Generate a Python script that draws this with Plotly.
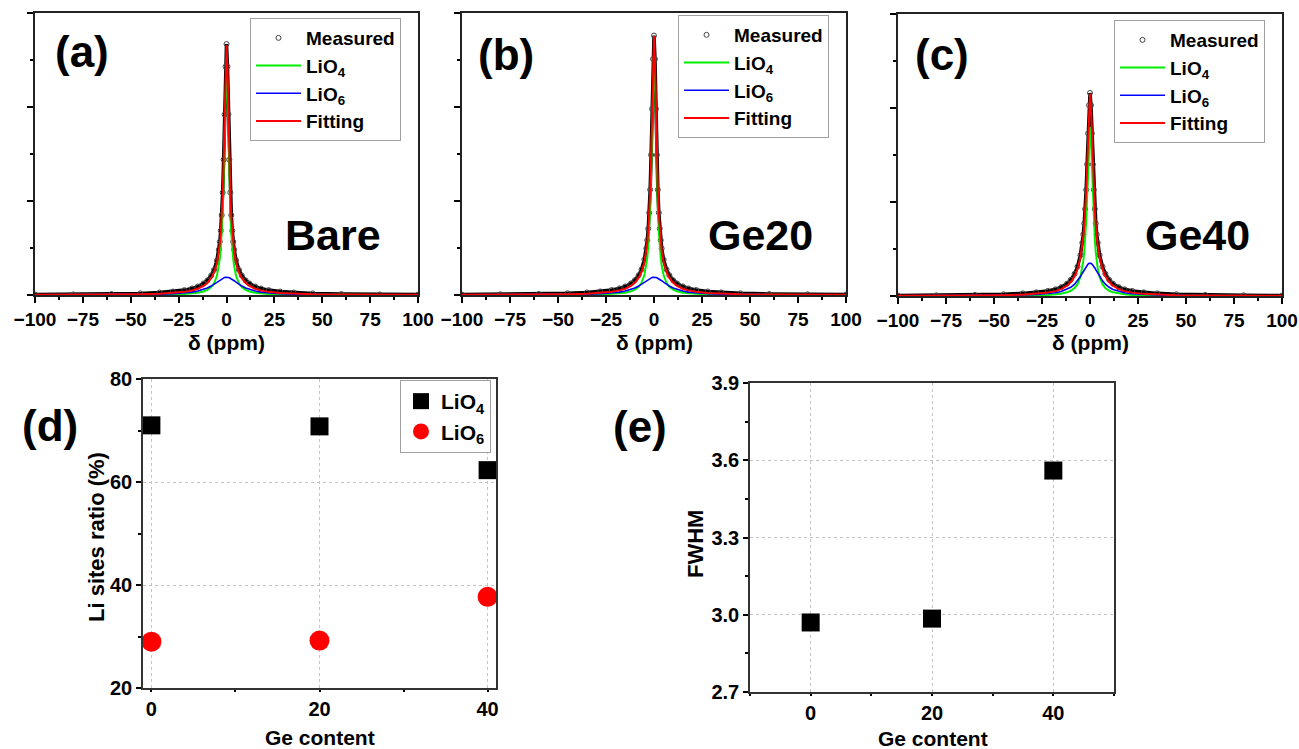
import plotly.graph_objects as go

W, H = 1299, 749
FONT = "Liberation Sans, Arial, sans-serif"

# ---------------- data ----------------
shift_ppm = [-100, -80, -60, -45, -35, -28, -22, -18, -15, -12, -10, -8, -6.5, -5, -4, -3.5, -3, -2.5, -2, -1.5, -1, -0.5,
             0, 0.5, 1, 1.5, 2, 2.5, 3, 3.5, 4, 5, 6.5, 8, 10, 12, 15, 18, 22, 28, 35, 45, 60, 80, 100]

a_meas = [0.004, 0.006, 0.010, 0.017, 0.026, 0.037, 0.052, 0.069, 0.090, 0.122, 0.155, 0.207, 0.267, 0.368, 0.483, 0.567, 0.685, 0.85, 1.09, 1.44, 1.92, 2.43,
          2.67, 2.43, 1.92, 1.44, 1.09, 0.85, 0.685, 0.567, 0.483, 0.368, 0.267, 0.207, 0.155, 0.122, 0.090, 0.069, 0.052, 0.037, 0.026, 0.017, 0.010, 0.006, 0.004]
a_lio4 = [0.0006, 0.0009, 0.0015, 0.0027, 0.0045, 0.0071, 0.0114, 0.017, 0.0245, 0.038, 0.054, 0.084, 0.125, 0.204, 0.305, 0.383, 0.494, 0.654, 0.889, 1.235, 1.710, 2.223,
          2.47, 2.223, 1.710, 1.235, 0.889, 0.654, 0.494, 0.383, 0.305, 0.204, 0.125, 0.084, 0.054, 0.038, 0.0245, 0.017, 0.0114, 0.0071, 0.0045, 0.0027, 0.0015, 0.0009, 0.0006]
a_lio6 = [0.0012, 0.0019, 0.0033, 0.0058, 0.0094, 0.0143, 0.022, 0.031, 0.042, 0.058, 0.074, 0.095, 0.114, 0.137, 0.152, 0.159, 0.167, 0.173, 0.179, 0.184, 0.187, 0.189,
          0.19, 0.189, 0.187, 0.184, 0.179, 0.173, 0.167, 0.159, 0.152, 0.137, 0.114, 0.095, 0.074, 0.058, 0.042, 0.031, 0.022, 0.0143, 0.0094, 0.0058, 0.0033, 0.0019, 0.0012]
a_fit = [0.0018, 0.0028, 0.0048, 0.0085, 0.0139, 0.0214, 0.0334, 0.048, 0.0665, 0.096, 0.128, 0.179, 0.239, 0.341, 0.457, 0.542, 0.661, 0.827, 1.068, 1.419, 1.897, 2.412,
         2.66, 2.412, 1.897, 1.419, 1.068, 0.827, 0.661, 0.542, 0.457, 0.341, 0.239, 0.179, 0.128, 0.096, 0.0665, 0.048, 0.0334, 0.0214, 0.0139, 0.0085, 0.0048, 0.0028, 0.0018]

b_meas = [0.004, 0.007, 0.011, 0.018, 0.027, 0.038, 0.053, 0.070, 0.091, 0.123, 0.157, 0.210, 0.272, 0.377, 0.495, 0.583, 0.705, 0.875, 1.12, 1.49, 1.98, 2.51,
          2.76, 2.51, 1.98, 1.49, 1.12, 0.875, 0.705, 0.583, 0.495, 0.377, 0.272, 0.210, 0.157, 0.123, 0.091, 0.070, 0.053, 0.038, 0.027, 0.018, 0.011, 0.007, 0.004]
b_lio4 = [0.0006, 0.0009, 0.0016, 0.0028, 0.0047, 0.0073, 0.012, 0.018, 0.025, 0.039, 0.056, 0.087, 0.130, 0.212, 0.316, 0.398, 0.513, 0.679, 0.923, 1.283, 1.776, 2.309,
          2.565, 2.309, 1.776, 1.283, 0.923, 0.679, 0.513, 0.398, 0.316, 0.212, 0.130, 0.087, 0.056, 0.039, 0.025, 0.018, 0.012, 0.0073, 0.0047, 0.0028, 0.0016, 0.0009, 0.0006]
b_lio6 = [0.0012, 0.0019, 0.0033, 0.0058, 0.0094, 0.0143, 0.022, 0.031, 0.042, 0.058, 0.074, 0.095, 0.114, 0.137, 0.152, 0.159, 0.167, 0.173, 0.179, 0.184, 0.187, 0.189,
          0.19, 0.189, 0.187, 0.184, 0.179, 0.173, 0.167, 0.159, 0.152, 0.137, 0.114, 0.095, 0.074, 0.058, 0.042, 0.031, 0.022, 0.0143, 0.0094, 0.0058, 0.0033, 0.0019, 0.0012]
b_fit = [0.0018, 0.0028, 0.0049, 0.0086, 0.0141, 0.0216, 0.034, 0.049, 0.067, 0.097, 0.130, 0.182, 0.244, 0.349, 0.468, 0.557, 0.680, 0.852, 1.102, 1.467, 1.963, 2.498,
         2.755, 2.498, 1.963, 1.467, 1.102, 0.852, 0.680, 0.557, 0.468, 0.349, 0.244, 0.182, 0.130, 0.097, 0.067, 0.049, 0.034, 0.0216, 0.0141, 0.0086, 0.0049, 0.0028, 0.0018]

c_meas = [0.004, 0.007, 0.011, 0.018, 0.028, 0.039, 0.054, 0.071, 0.094, 0.131, 0.172, 0.236, 0.313, 0.435, 0.565, 0.655, 0.772, 0.925, 1.13, 1.40, 1.73, 2.03,
          2.16, 2.03, 1.73, 1.40, 1.13, 0.925, 0.772, 0.655, 0.565, 0.435, 0.313, 0.236, 0.172, 0.131, 0.094, 0.071, 0.054, 0.039, 0.028, 0.018, 0.011, 0.007, 0.004]
c_lio4 = [0.0006, 0.0009, 0.0016, 0.0028, 0.0046, 0.0073, 0.0117, 0.0174, 0.025, 0.0388, 0.0553, 0.085, 0.1255, 0.2025, 0.298, 0.370, 0.469, 0.606, 0.796, 1.052, 1.368, 1.668,
          1.80, 1.668, 1.368, 1.052, 0.796, 0.606, 0.469, 0.370, 0.298, 0.2025, 0.1255, 0.085, 0.0553, 0.0388, 0.025, 0.0174, 0.0117, 0.0073, 0.0046, 0.0028, 0.0016, 0.0009, 0.0006]
c_lio6 = [0.0013, 0.002, 0.0035, 0.0061, 0.010, 0.0154, 0.0242, 0.035, 0.0483, 0.070, 0.0926, 0.126, 0.161, 0.2066, 0.2423, 0.2611, 0.28, 0.2982, 0.315, 0.3294, 0.3405, 0.3476,
          0.35, 0.3476, 0.3405, 0.3294, 0.315, 0.2982, 0.28, 0.2611, 0.2423, 0.2066, 0.161, 0.126, 0.0926, 0.070, 0.0483, 0.035, 0.0242, 0.0154, 0.010, 0.0061, 0.0035, 0.002, 0.0013]
c_fit = [0.0019, 0.0029, 0.0051, 0.0089, 0.0146, 0.0227, 0.036, 0.052, 0.073, 0.109, 0.148, 0.211, 0.287, 0.409, 0.540, 0.631, 0.749, 0.904, 1.111, 1.381, 1.709, 2.016,
         2.15, 2.016, 1.709, 1.381, 1.111, 0.904, 0.749, 0.631, 0.540, 0.409, 0.287, 0.211, 0.148, 0.109, 0.073, 0.052, 0.036, 0.0227, 0.0146, 0.0089, 0.0051, 0.0029, 0.0019]

ge_content = [0, 20, 40]
ratio_lio4 = [71.0, 70.8, 62.3]
ratio_lio6 = [29.0, 29.2, 37.7]
fwhm = [2.97, 2.985, 3.56]

sample_names = ["Bare", "Ge20", "Ge40"]
panel_letters = ["(a)", "(b)", "(c)", "(d)", "(e)"]

# ---------------- helpers ----------------
def px(x):
    return x / W

def py(y):
    return 1 - y / H

def f(size, bold=True):
    d = dict(family=FONT, size=size, color="black")
    if bold:
        d["weight"] = "bold"
    return d

fig = go.Figure()

spectra = [
    (a_meas, a_lio4, a_lio6, a_fit),
    (b_meas, b_lio4, b_lio6, b_fit),
    (c_meas, c_lio4, c_lio6, c_fit),
]
legend_names = ["legend", "legend2", "legend3"]

for i, (meas, l4, l6, fit) in enumerate(spectra):
    xa = "x" if i == 0 else f"x{i+1}"
    ya = "y" if i == 0 else f"y{i+1}"
    lg = legend_names[i]
    fig.add_trace(go.Scatter(x=shift_ppm, y=meas, xaxis=xa, yaxis=ya, mode="lines",
                             line=dict(color="black", width=3.5), showlegend=False, hoverinfo="skip"))
    fig.add_trace(go.Scatter(x=shift_ppm, y=meas, xaxis=xa, yaxis=ya, mode="markers", name="Measured",
                             marker=dict(symbol="circle-open", size=5, color="#444444", line=dict(width=1)),
                             legend=lg))
    fig.add_trace(go.Scatter(x=shift_ppm, y=l4, xaxis=xa, yaxis=ya, mode="lines", name="LiO<sub>4</sub>",
                             line=dict(color="#00ee00", width=2), legend=lg))
    fig.add_trace(go.Scatter(x=shift_ppm, y=l6, xaxis=xa, yaxis=ya, mode="lines", name="LiO<sub>6</sub>",
                             line=dict(color="#0000ff", width=1.6), legend=lg))
    fig.add_trace(go.Scatter(x=shift_ppm, y=fit, xaxis=xa, yaxis=ya, mode="lines", name="Fitting",
                             line=dict(color="#ff0000", width=2), legend=lg))

fig.add_trace(go.Scatter(x=ge_content, y=ratio_lio4, xaxis="x4", yaxis="y4", mode="markers", name="LiO<sub>4</sub>",
                         marker=dict(symbol="square", size=18, color="black"), cliponaxis=False, legend="legend4"))
fig.add_trace(go.Scatter(x=ge_content, y=ratio_lio6, xaxis="x4", yaxis="y4", mode="markers", name="LiO<sub>6</sub>",
                         marker=dict(symbol="circle", size=20, color="#ff0000"), cliponaxis=False, legend="legend4"))
fig.add_trace(go.Scatter(x=ge_content, y=fwhm, xaxis="x5", yaxis="y5", mode="markers", name="FWHM",
                         marker=dict(symbol="square", size=18, color="black"), cliponaxis=False, showlegend=False))

# ---------------- layout ----------------
spec_dom_x = [(35, 418), (462, 846), (898, 1282)]
spec_dom_y = [(13, 295), (13, 295), (14, 296)]

layout = dict(template="none", width=W, height=H, margin=dict(l=0, r=0, t=0, b=0, pad=0, autoexpand=False),
              autosize=False, paper_bgcolor="white", plot_bgcolor="white", font=f(18))

for i in range(3):
    xk = "xaxis" if i == 0 else f"xaxis{i+1}"
    yk = "yaxis" if i == 0 else f"yaxis{i+1}"
    ya = "y" if i == 0 else f"y{i+1}"
    xa = "x" if i == 0 else f"x{i+1}"
    x0, x1 = spec_dom_x[i]
    y0, y1 = spec_dom_y[i]
    layout[xk] = dict(domain=[px(x0), px(x1)], anchor=ya, range=[-100, 100], tick0=0, dtick=25,
                      ticks="outside", ticklen=6, tickwidth=1.5, tickcolor="black", automargin=False,
                      minor=dict(dtick=12.5, ticks="outside", ticklen=3, tickcolor="black", showgrid=False),
                      showline=True, linecolor="#222222", linewidth=2, mirror=True,
                      showgrid=False, zeroline=False, tickfont=f(19), fixedrange=True)
    layout[yk] = dict(domain=[py(y1), py(y0)], anchor=xa, range=[0, 3], tick0=0, dtick=1,
                      ticks="outside", ticklen=6, tickwidth=1.5, tickcolor="black", showticklabels=False,
                      automargin=False,
                      minor=dict(dtick=0.5, ticks="outside", ticklen=3, tickcolor="black", showgrid=False),
                      showline=True, linecolor="#222222", linewidth=2, mirror=True,
                      showgrid=False, zeroline=False, fixedrange=True)

grid_style = dict(showgrid=True, gridcolor="#c4c4c4", griddash="dot", gridwidth=1)

layout["xaxis4"] = dict(domain=[px(143), px(496)], anchor="y4", range=[-1, 41], tick0=0, dtick=20,
                        ticks="outside", ticklen=2, tickwidth=1.5, tickcolor="black", automargin=False,
                        minor=dict(dtick=10, ticks="outside", ticklen=2, tickcolor="black", showgrid=False),
                        showline=True, linecolor="#333333", linewidth=1.5, mirror=True,
                        zeroline=False, tickfont=f(20), **grid_style)
layout["yaxis4"] = dict(domain=[py(688), py(379)], anchor="x4", range=[20, 80], tick0=20, dtick=20,
                        ticks="outside", ticklen=5, tickwidth=1.5, tickcolor="black", automargin=False,
                        minor=dict(dtick=10, ticks="outside", ticklen=3, tickcolor="black", showgrid=False),
                        showline=True, linecolor="#333333", linewidth=1.5, mirror=True,
                        zeroline=False, tickfont=f(20), **grid_style)
layout["xaxis5"] = dict(domain=[px(750), px(1114)], anchor="y5", range=[-10, 50], tick0=0, dtick=20,
                        ticks="outside", ticklen=2, tickwidth=1.5, tickcolor="black", automargin=False,
                        minor=dict(dtick=10, ticks="outside", ticklen=2, tickcolor="black", showgrid=False),
                        showline=True, linecolor="#333333", linewidth=1.5, mirror=True,
                        zeroline=False, tickfont=f(20), **grid_style)
layout["yaxis5"] = dict(domain=[py(692), py(383)], anchor="x5", range=[2.7, 3.9], tick0=2.7, dtick=0.3,
                        tickformat=".1f", automargin=False,
                        ticks="outside", ticklen=5, tickwidth=1.5, tickcolor="black",
                        minor=dict(dtick=0.15, ticks="outside", ticklen=3, tickcolor="black", showgrid=False),
                        showline=True, linecolor="#333333", linewidth=1.5, mirror=True,
                        zeroline=False, tickfont=f(20), **grid_style)

leg_common = dict(xanchor="left", yanchor="top", bgcolor="white", bordercolor="#a0a0a0", borderwidth=1,
                  font=f(19), tracegroupgap=0, itemwidth=45)
layout["legend"] = dict(x=px(250), y=py(18), **leg_common)
layout["legend2"] = dict(x=px(678), y=py(15), **leg_common)
layout["legend3"] = dict(x=px(1114), y=py(20), **leg_common)
layout["legend4"] = dict(x=px(400), y=py(380), **dict(leg_common, font=f(21), itemwidth=30))

ann = []
def add_text(text, x, y, size, angle=0):
    ann.append(dict(text=text, x=px(x), y=py(y), xref="paper", yref="paper", showarrow=False,
                    xanchor="center", yanchor="middle", font=f(size), textangle=angle))

add_text("(a)", 82, 52, 44)
add_text("(b)", 506, 55, 44)
add_text("(c)", 942, 55, 44)
add_text("(d)", 50, 425, 44)
add_text("(e)", 640, 427, 44)
add_text("Bare", 333, 235, 43)
add_text("Ge20", 760, 235, 43)
add_text("Ge40", 1197, 235, 43)
add_text("δ (ppm)", 227, 343, 21)
add_text("δ (ppm)", 654, 343, 21)
add_text("δ (ppm)", 1090, 343, 21)
add_text("Ge content", 320, 737, 21)
add_text("Li sites ratio (%)", 96, 537, 22, -90)
add_text("Ge content", 933, 738, 21)
add_text("FWHM", 695, 544, 22, -90)
layout["annotations"] = ann

fig.update_layout(**layout)
fig.write_html("out.html")
